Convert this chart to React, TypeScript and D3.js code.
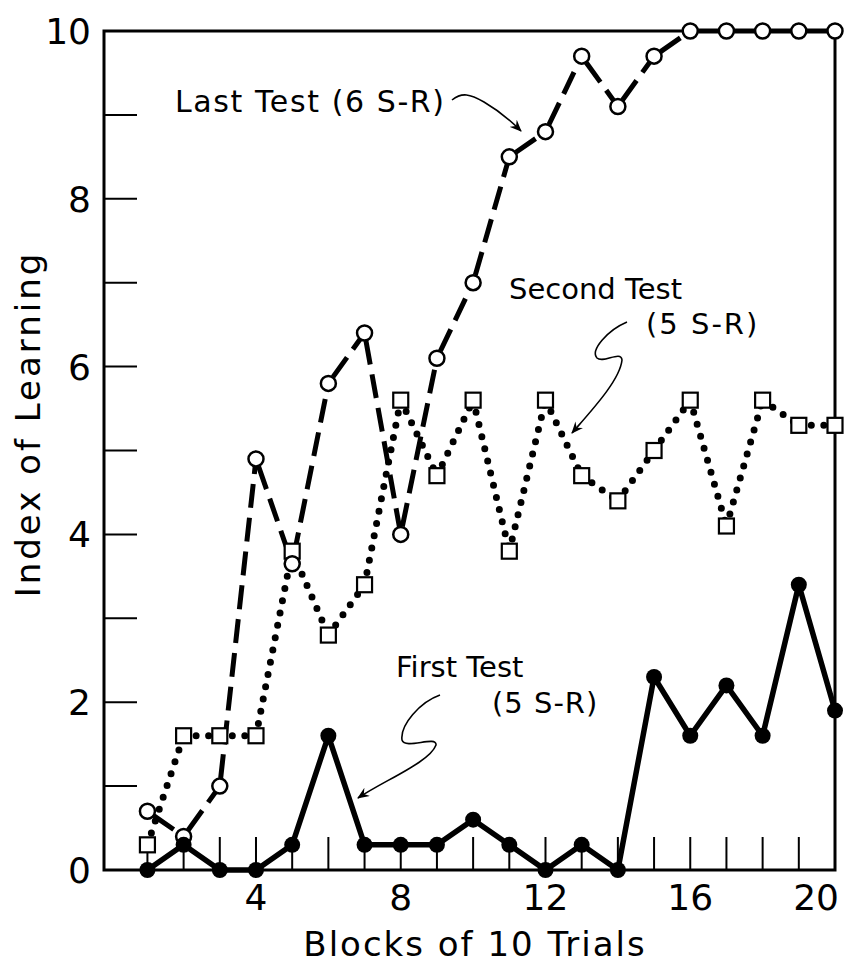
import { line, pairs, scaleLinear } from "d3";

const blocks = [1, 2, 3, 4, 5, 6, 7, 8, 9, 10, 11, 12, 13, 14, 15, 16, 17, 18, 19, 20];
const firstTest = [0, 0.3, 0, 0, 0.3, 1.6, 0.3, 0.3, 0.3, 0.6, 0.3, 0, 0.3, 0, 2.3, 1.6, 2.2, 1.6, 3.4, 1.9];
const secondTest = [0.3, 1.6, 1.6, 1.6, 3.8, 2.8, 3.4, 5.6, 4.7, 5.6, 3.8, 5.6, 4.7, 4.4, 5.0, 5.6, 4.1, 5.6, 5.3, 5.3];
const lastTest = [0.7, 0.4, 1.0, 4.9, 3.65, 5.8, 6.4, 4.0, 6.1, 7.0, 8.5, 8.8, 9.7, 9.1, 9.7, 10, 10, 10, 10, 10];
const xTickLabels = [4, 8, 12, 16, 20];
const yTickLabels = [0, 2, 4, 6, 8, 10];
const yMinorTicks = [1, 2, 3, 4, 5, 6, 7, 8, 9];

const width = 845;
const height = 966;
const plot = { left: 104, right: 835, top: 31, bottom: 870 };
const font = "'DejaVu Sans', sans-serif";

type Pt = [number, number];

export default function App(): React.JSX.Element {
  const x = scaleLinear().domain([-0.2, 20]).range([plot.left, plot.right]);
  const y = scaleLinear().domain([0, 10]).range([plot.bottom, plot.top]);
  const path = line<Pt>()
    .x((d) => x(d[0]))
    .y((d) => y(d[1]));

  const toPoints = (values: number[]): Pt[] => blocks.map((b, i) => [b, values[i]]);
  const first = toPoints(firstTest);
  const second = toPoints(secondTest);
  const last = toPoints(lastTest);

  return (
    <>
      <style>{"html, body { margin: 0; padding: 0; overflow: hidden; }"}</style>
      <svg width={width} height={height} viewBox={`0 0 ${width} ${height}`} style={{ display: "block" }}>
        <defs>
          <marker id="head" viewBox="0 0 12 10" refX="11" refY="5" markerWidth="12" markerHeight="10" markerUnits="userSpaceOnUse" orient="auto">
            <path d="M0,0 L12,5 L0,10 L4,5 Z" fill="#000" />
          </marker>
        </defs>
        <rect width={width} height={height} fill="#fff" />

        {/* ticks */}
        {yMinorTicks.map((t) => (
          <line key={`yt${t}`} x1={plot.left} x2={plot.left + 33} y1={y(t)} y2={y(t)} stroke="#000" strokeWidth={2} />
        ))}
        {blocks.slice(0, 19).map((b) => (
          <line key={`xt${b}`} x1={x(b)} x2={x(b)} y1={plot.bottom} y2={plot.bottom - 33} stroke="#000" strokeWidth={2} />
        ))}
        <rect x={plot.left} y={plot.top} width={plot.right - plot.left} height={plot.bottom - plot.top} fill="none" stroke="#000" strokeWidth={3} />

        {/* tick labels */}
        {yTickLabels.map((t) => (
          <text key={`yl${t}`} x={91} y={y(t)} dy="0.36em" textAnchor="end" fontFamily={font} fontSize={36}>
            {t}
          </text>
        ))}
        {xTickLabels.map((t) => (
          <text
            key={`xl${t}`}
            x={t === 20 ? 839 : x(t)}
            y={910}
            textAnchor={t === 20 ? "end" : "middle"}
            fontFamily={font}
            fontSize={36}
          >
            {t}
          </text>
        ))}
        <text x={475} y={956} textAnchor="middle" fontFamily={font} fontSize={34} letterSpacing={2}>
          Blocks of 10 Trials
        </text>
        <text transform="translate(40,424) rotate(-90)" textAnchor="middle" fontFamily={font} fontSize={34} letterSpacing={3}>
          Index of Learning
        </text>

        {/* second test: dotted */}
        {pairs(second).map(([a, b], i) => (
          <path key={`s${i}`} d={path([a, b]) ?? ""} fill="none" stroke="#000" strokeWidth={7} strokeLinecap="round" strokeDasharray="0 12.5" />
        ))}
        {/* last test: dashed */}
        {pairs(last).map(([a, b], i) => (
          <path key={`l${i}`} d={path([a, b]) ?? ""} fill="none" stroke="#000" strokeWidth={5} strokeDasharray="24 10" strokeDashoffset={-8} />
        ))}
        {/* first test: solid */}
        <path d={path(first) ?? ""} fill="none" stroke="#000" strokeWidth={5.5} strokeLinejoin="round" />

        {second.map((d, i) => (
          <rect key={`sq${i}`} x={x(d[0]) - 7.5} y={y(d[1]) - 7.5} width={15} height={15} fill="#fff" stroke="#000" strokeWidth={2.2} />
        ))}
        {last.map((d, i) => (
          <circle key={`oc${i}`} cx={x(d[0])} cy={y(d[1])} r={7.5} fill="#fff" stroke="#000" strokeWidth={2.5} />
        ))}
        {first.map((d, i) => (
          <circle key={`fc${i}`} cx={x(d[0])} cy={y(d[1])} r={8} fill="#000" />
        ))}

        {/* annotations */}
        <text x={175} y={112} fontFamily={font} fontSize={30} letterSpacing={1.6}>
          Last Test (6 S-R)
        </text>
        <path d="M452,100 C462,92 470,94 484,102 C496,109 508,118 521,131" fill="none" stroke="#000" strokeWidth={1.6} markerEnd="url(#head)" />

        <text x={509} y={299} fontFamily={font} fontSize={29}>
          Second Test
        </text>
        <text x={646} y={334} fontFamily={font} fontSize={29} letterSpacing={2}>
          (5 S-R)
        </text>
        <path d="M627,322 C608,330 590,350 597,358 C603,364 621,350 622,360 C620,380 592,410 572,433" fill="none" stroke="#000" strokeWidth={1.6} markerEnd="url(#head)" />

        <text x={396} y={677} fontFamily={font} fontSize={29}>
          First Test
        </text>
        <text x={492} y={713} fontFamily={font} fontSize={29} letterSpacing={1}>
          (5 S-R)
        </text>
        <path d="M440,695 C420,702 400,725 402,740 C405,750 437,735 436,745 C430,762 385,780 358,798" fill="none" stroke="#000" strokeWidth={1.6} markerEnd="url(#head)" />
      </svg>
    </>
  );
}
